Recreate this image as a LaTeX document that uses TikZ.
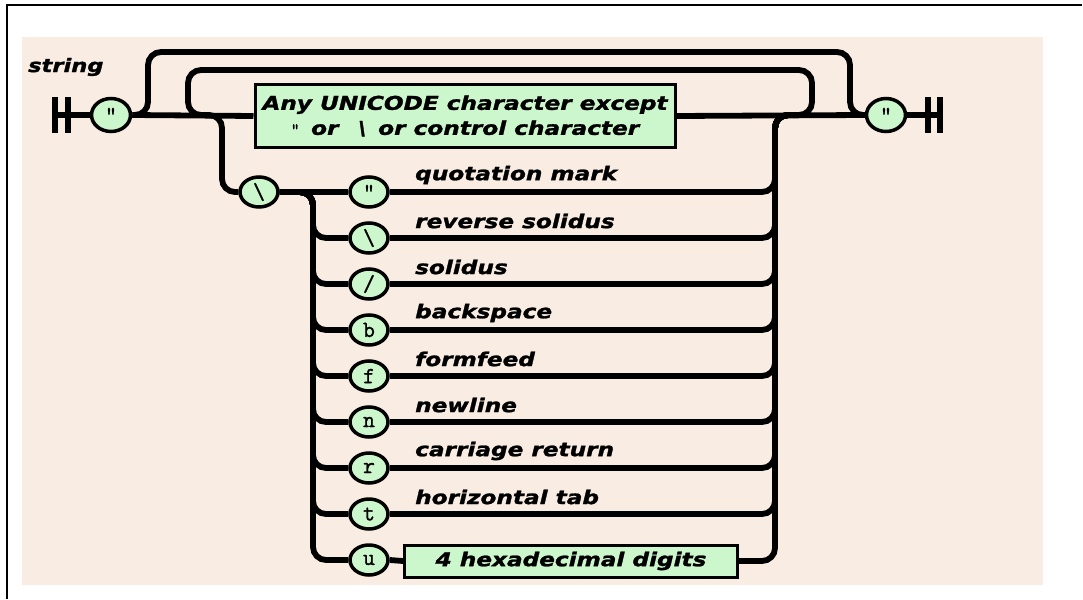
\documentclass[tikz,border=0pt]{standalone}
\usepackage{fontspec}
\setmainfont{DejaVu Sans}[BoldItalicFont={DejaVu Sans Bold Oblique}, BoldItalicFeatures={FakeBold=1.3}]
\setmonofont{Latin Modern Mono}[FakeBold=1.5]
\usepackage{graphicx}
\usetikzlibrary{shapes.geometric}
\definecolor{bg}{RGB}{249,237,227}
\definecolor{term}{RGB}{204,246,204}
\newcommand{\lbl}[1]{\scalebox{1.22}[1]{\bfseries\itshape #1}}
\begin{document}
\begin{tikzpicture}[x=1pt,y=-1pt,
  rail/.style={line width=5.8pt, rounded corners=13pt},
  bar/.style={line width=6pt},
  tok/.style={ellipse, draw, line width=3.5pt, fill=term, minimum width=38pt, minimum height=30pt, inner sep=0pt, font=\ttfamily\fontsize{23}{23}\selectfont},
  box/.style={draw, line width=3pt, fill=term, inner sep=0pt, font=\fontsize{19}{25}\selectfont, align=center},
  desc/.style={anchor=west, inner sep=0pt, font=\fontsize{19}{23}\selectfont}
]
\useasboundingbox (0,0) rectangle (1083,599);
\fill[bg] (22,37) rectangle (1043,585);
\draw[line width=1.5pt] (7,599) -- (7,5) -- (1082,5);

% helper coordinates
\coordinate (b) at (313,0);
\coordinate (c) at (775,115);
\coordinate (m) at (792,115);

% nodes
\node[anchor=west, inner sep=0pt, font=\fontsize{18.5}{20}\selectfont] (title) at (28,67) {\lbl{string}};
\node[tok, minimum width=39pt, minimum height=33pt] (q1) at (111,115) {"};
\node[tok, minimum width=39pt, minimum height=33pt] (q2) at (886,115) {"};
\node[box, minimum width=420pt, minimum height=62pt] (any) at (465,116)
  {\lbl{Any UNICODE character except}\\{\ttfamily\fontsize{17}{17}\selectfont"}\lbl{\enspace or \enspace\textbackslash\enspace or control character}};
\node[tok] (esc) at (259,192) {\textbackslash};

\node[tok] (r1) at (369,192) {"};
\node[tok] (r2) at (369,238) {\textbackslash};
\node[tok] (r3) at (369,284) {/};
\node[tok] (r4) at (369,330) {b};
\node[tok] (r5) at (369,376) {f};
\node[tok] (r6) at (369,422) {n};
\node[tok] (r7) at (369,468) {r};
\node[tok] (r8) at (369,514) {t};
\node[tok] (r9) at (369,560) {u};
\node[box, minimum width=333pt, minimum height=32pt] (hex) at (571,561) {\lbl{4 hexadecimal digits}};

\node[desc] (l1) at (415,175) {\lbl{quotation mark}};
\node[desc] (l2) at (415,221) {\lbl{reverse solidus}};
\node[desc] (l3) at (415,267) {\lbl{solidus}};
\node[desc] (l4) at (415,313) {\lbl{backspace}};
\node[desc] (l5) at (415,359) {\lbl{formfeed}};
\node[desc] (l6) at (415,405) {\lbl{newline}};
\node[desc] (l7) at (415,451) {\lbl{carriage return}};
\node[desc] (l8) at (415,497) {\lbl{horizontal tab}};

% start / end bars
\coordinate (s1) at (55,115);
\coordinate (e1) at (940,115);
\draw[bar] (55,97) -- (55,133);
\draw[bar] (68,97) -- (68,133);
\draw[bar] (928,97) -- (928,133);
\draw[bar] (940,97) -- (940,133);

% main line
\draw[rail] (s1) -- (q1.west);
\draw[rail] (q1.east) -- (any.west);
\draw[rail] (any.east) -- (q2.west);
\draw[rail] (q2.east) -- (e1);

% outer bypass loop
\draw[rail] (q1.east) -| (148,52) -| (850,115) -- (q2.west);
% inner repeat loop
\draw[rail] (m) -| (812,70) -| (188,115) -- (205,115);
% escape branch
\draw[rail] (200,115) -| (222,192) -- (esc.west);
\draw[rail] (esc.east) -- (r1.west);
\foreach \i in {2,...,9} {
  \draw[rail] (esc.east) -| (r\i.west -| b) -- (r\i.west);
}
\foreach \i in {1,...,8} {
  \draw[rail] (r\i.east) -| (c) -- (m);
}
\draw[rail] (r9.east) -- (hex.west);
\draw[rail] (hex.east) -| (c) -- (m);
\end{tikzpicture}
\end{document}
